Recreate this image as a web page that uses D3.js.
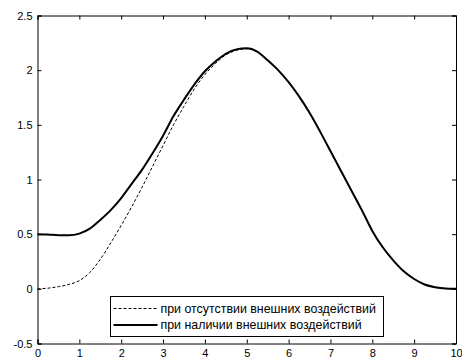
<!DOCTYPE html>
<html>
<head>
<meta charset="utf-8">
<script src="https://cdn.jsdelivr.net/npm/d3@7"></script>
<style>
html,body{margin:0;padding:0;background:#fff;}
svg{display:block;}
text{font-family:"Liberation Sans",Arial,sans-serif;}
</style>
</head>
<body>
<svg id="chart" width="462" height="364"></svg>
<script>
// Data
const xTicks = [0,1,2,3,4,5,6,7,8,9,10];
const yTicks = [-0.5,0,0.5,1,1.5,2,2.5];
const yTickLabels = ["-0.5","0","0.5","1","1.5","2","2.5"];
const legendLabels = ["при отсутствии внешних воздействий","при наличии внешних воздействий"];

const tValues = [0,0.25,0.5,0.75,1,1.25,1.5,1.75,2,2.25,2.5,2.75,3,3.25,3.5,3.75,4,4.25,4.5,4.75,5,5.25,5.5,5.75,6,6.25,6.5,6.75,7,7.25,7.5,7.75,8,8.25,8.5,8.75,9,9.25,9.5,9.75,10];
const withoutValues = [0,0.006,0.02,0.04,0.075,0.15,0.27,0.42,0.58,0.75,0.93,1.12,1.31,1.50,1.67,1.83,1.96,2.06,2.14,2.18,2.195,2.17,2.09,2.00,1.89,1.76,1.61,1.44,1.26,1.08,0.90,0.72,0.53,0.38,0.26,0.16,0.09,0.04,0.015,0.003,0];
const withValues = [0.50,0.497,0.49,0.49,0.505,0.55,0.63,0.72,0.83,0.96,1.09,1.24,1.40,1.58,1.73,1.87,1.99,2.08,2.15,2.19,2.20,2.17,2.09,2.00,1.89,1.76,1.61,1.44,1.26,1.08,0.90,0.72,0.53,0.38,0.26,0.16,0.09,0.04,0.015,0.003,0];

const svg = d3.select("#chart");
const L = 37.5, R = 456, T = 15.5, B = 343.5;
const x = d3.scaleLinear().domain([0,10]).range([L,R]);
const y = d3.scaleLinear().domain([-0.5,2.5]).range([B,T]);

const g = svg.append("g");

const fs = "11px";
const axBottom = g.append("g").attr("transform",`translate(0,${B})`)
  .call(d3.axisBottom(x).tickValues(xTicks).tickSize(-4).tickPadding(6).tickFormat(d3.format("d")));
const axTop = g.append("g").attr("transform",`translate(0,${T})`)
  .call(d3.axisTop(x).tickValues(xTicks).tickSize(-4).tickFormat(""));
const axLeft = g.append("g").attr("transform",`translate(${L},0)`)
  .call(d3.axisLeft(y).tickValues(yTicks).tickSize(-4).tickPadding(5).tickFormat((d,i)=>yTickLabels[i]));
const axRight = g.append("g").attr("transform",`translate(${R},0)`)
  .call(d3.axisRight(y).tickValues(yTicks).tickSize(-4).tickFormat(""));
[axBottom,axTop,axLeft,axRight].forEach(a=>{
  a.select(".domain").attr("stroke","#000").attr("stroke-width",1);
  a.selectAll(".tick line").attr("stroke","#000");
  a.selectAll("text").attr("font-size",fs).attr("fill","#000").attr("font-family","Liberation Sans, Arial, sans-serif");
});

const line = d3.line().x((d,i)=>x(tValues[i])).y(d=>y(d)).curve(d3.curveMonotoneX);

g.append("path").datum(withoutValues).attr("d",line)
  .attr("fill","none").attr("stroke","#000").attr("stroke-width",1).attr("stroke-dasharray","3,2");
g.append("path").datum(withValues).attr("d",line)
  .attr("fill","none").attr("stroke","#000").attr("stroke-width",2);

// Legend
const lg = g.append("g");
const lx0 = 110.5, ly0 = 296.5, lw = 273, lh = 40;
lg.append("rect").attr("x",lx0).attr("y",ly0).attr("width",lw).attr("height",lh)
  .attr("fill","#fff").attr("stroke","#000").attr("stroke-width",1);
const rows = [308.5, 325];
const styles = [{w:1,dash:"3,2"},{w:2,dash:null}];
legendLabels.forEach((lab,i)=>{
  lg.append("line").attr("x1",lx0+3).attr("x2",lx0+47).attr("y1",rows[i]).attr("y2",rows[i])
    .attr("stroke","#000").attr("stroke-width",styles[i].w).attr("stroke-dasharray",styles[i].dash);
  lg.append("text").attr("x",lx0+50).attr("y",rows[i]).attr("dy","0.35em")
    .attr("font-size","12.4px").attr("fill","#000").text(lab);
});
</script>
</body>
</html>
